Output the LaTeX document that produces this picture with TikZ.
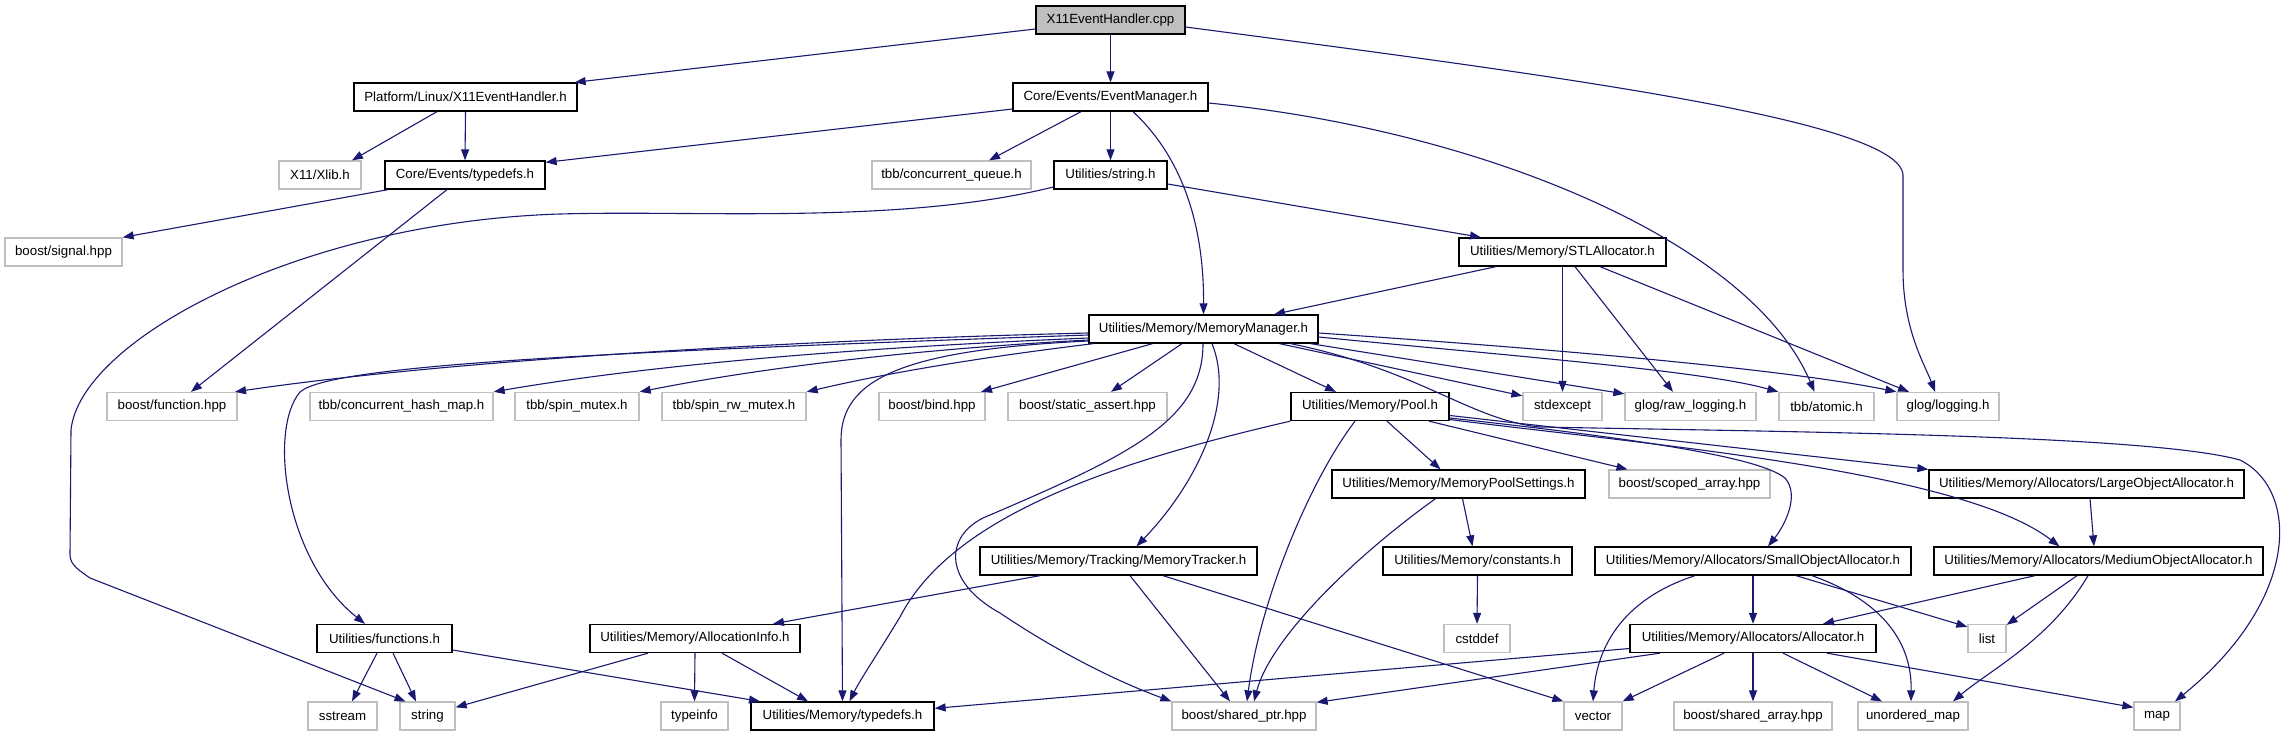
\documentclass[tikz,border=0pt]{standalone}
\usepackage{fontspec}
\setmainfont{Liberation Sans}
\usetikzlibrary{arrows.meta}
\definecolor{sysgrey}{HTML}{BFBFBF}
\definecolor{edgeblue}{HTML}{191970}
\newcommand{\nodefont}{\fontsize{13.3}{15}\selectfont}
\tikzset{
  box/.style={draw, line width=1.3pt, minimum height=28pt, inner sep=0pt, font=\nodefont, anchor=center},
  doc/.style={box, draw=black},
  sys/.style={box, draw=sysgrey},
  root/.style={box, draw=black, fill=sysgrey},
  dep/.style={draw=edgeblue, line width=1.1pt, -{Triangle[length=11pt,width=8pt]}},
}
\begin{document}
\begin{tikzpicture}[x=1pt,y=-1pt]
\useasboundingbox (0,0) rectangle (2292,736);
% row 0
\node[root, minimum width=149pt] (cpp) at (1110.5,20) {X11EventHandler.cpp};
% row 1
\node[doc, minimum width=223pt] (plat) at (465.5,97) {Platform/Linux/X11EventHandler.h};
\node[doc, minimum width=195pt] (em) at (1110.5,97) {Core/Events/EventManager.h};
% row 2
\node[sys, minimum width=82pt] (xlib) at (320,175) {X11/Xlib.h};
\node[doc, minimum width=160pt] (ctd) at (465,175) {Core/Events/typedefs.h};
\node[sys, minimum width=159pt] (cq) at (951.5,175) {tbb/concurrent\_queue.h};
\node[doc, minimum width=113pt] (ustr) at (1110.5,175) {Utilities/string.h};
% row 3
\node[sys, minimum width=117pt] (sig) at (63.5,252) {boost/signal.hpp};
\node[doc, minimum width=207pt] (stl) at (1562.5,252) {Utilities/Memory/STLAllocator.h};
% row 4
\node[doc, minimum width=229pt] (mm) at (1203.5,329) {Utilities/Memory/MemoryManager.h};
% row 5
\node[sys, minimum width=130pt] (bfun) at (172,406.5) {boost/function.hpp};
\node[sys, minimum width=183pt] (chm) at (401.5,406.5) {tbb/concurrent\_hash\_map.h};
\node[sys, minimum width=124pt] (smx) at (577,406.5) {tbb/spin\_mutex.h};
\node[sys, minimum width=144pt] (srw) at (734,406.5) {tbb/spin\_rw\_mutex.h};
\node[sys, minimum width=106pt] (bind) at (932,406.5) {boost/bind.hpp};
\node[sys, minimum width=159pt] (sa) at (1087.5,406.5) {boost/static\_assert.hpp};
\node[doc, minimum width=158pt] (pool) at (1370,406.5) {Utilities/Memory/Pool.h};
\node[sys, minimum width=79pt] (stdx) at (1562.5,406.5) {stdexcept};
\node[sys, minimum width=131pt] (raw) at (1690.5,406.5) {glog/raw\_logging.h};
\node[sys, minimum width=95pt] (atom) at (1826.5,406.5) {tbb/atomic.h};
\node[sys, minimum width=102pt] (glog) at (1948,406.5) {glog/logging.h};
% row 6
\node[doc, minimum width=253pt] (mps) at (1458.5,484) {Utilities/Memory/MemoryPoolSettings.h};
\node[sys, minimum width=161pt] (scop) at (1689.5,484) {boost/scoped\_array.hpp};
\node[doc, minimum width=315pt] (large) at (2086.5,484) {Utilities/Memory/Allocators/LargeObjectAllocator.h};
% row 7
\node[doc, minimum width=277pt] (mt) at (1118.5,561) {Utilities/Memory/Tracking/MemoryTracker.h};
\node[doc, minimum width=189pt] (cons) at (1477.5,561) {Utilities/Memory/constants.h};
\node[doc, minimum width=316pt] (small) at (1753,561) {Utilities/Memory/Allocators/SmallObjectAllocator.h};
\node[doc, minimum width=329pt] (med) at (2098.5,561) {Utilities/Memory/Allocators/MediumObjectAllocator.h};
% row 8
\node[doc, minimum width=135pt] (fun) at (384.5,638.5) {Utilities/functions.h};
\node[doc, minimum width=210pt] (ainfo) at (695,638.5) {Utilities/Memory/AllocationInfo.h};
\node[sys, minimum width=66pt] (cstd) at (1477,638.5) {cstddef};
\node[doc, minimum width=246pt] (alloc) at (1753,638.5) {Utilities/Memory/Allocators/Allocator.h};
\node[sys, minimum width=38pt] (list) at (1987,638.5) {list};
% row 9
\node[sys, minimum width=69pt] (sstr) at (342.5,716) {sstream};
\node[sys, minimum width=55pt] (str) at (427.5,716) {string};
\node[sys, minimum width=67pt] (tinfo) at (694.5,716) {typeinfo};
\node[doc, minimum width=183pt] (mtd) at (842.5,716) {Utilities/Memory/typedefs.h};
\node[sys, minimum width=144pt] (sptr) at (1244,716) {boost/shared\_ptr.hpp};
\node[sys, minimum width=58pt] (vec) at (1593,716) {vector};
\node[sys, minimum width=158pt] (sarr) at (1753,716) {boost/shared\_array.hpp};
\node[sys, minimum width=110pt] (umap) at (1913,716) {unordered\_map};
\node[sys, minimum width=46pt] (map) at (2157,716) {map};

% edges from cpp
\draw[dep] ([yshift=-9pt]cpp.west) -- ([xshift=-3pt]plat.north east);
\draw[dep] (cpp.south) -- (em.north);
\draw[dep] ([yshift=-7pt]cpp.east) .. controls (1550,75) and (1900,120) .. (1903,175) -- (1903,270) .. controls (1903,330) and (1925,365) .. ([xshift=-13pt]glog.north);
% edges from EventManager
\draw[dep] ([yshift=-12pt]em.west) -- ([yshift=-2pt]ctd.north east);
\draw[dep] ([xshift=-29.5pt]em.south) -- ([xshift=37.5pt]cq.north);
\draw[dep] (em.south) -- (ustr.north);
\draw[dep] ([xshift=22.5pt]em.south) .. controls (1185,160) and (1204,230) .. (mm.north);
\draw[dep] ([yshift=-6pt]em.east) .. controls (1480,130) and (1750,240) .. ([xshift=-12pt]atom.north);
% edges from Platform
\draw[dep] ([xshift=-28.5pt]plat.south) -- ([xshift=32pt]xlib.north);
\draw[dep] (plat.south) -- (ctd.north);
% edges from Core/Events/typedefs.h
\draw[dep] ([xshift=-77pt]ctd.south) -- (sig.north east);
\draw[dep] ([xshift=-18pt]ctd.south) -- ([xshift=19pt]bfun.north);
% edges from Utilities/string.h
\draw[dep] ([yshift=-12pt]ustr.west) .. controls (900,225) and (700,210) .. (560,214) .. controls (300,222) and (80,340) .. (71,430) -- (70,555) .. controls (70,565) and (80,571) .. (90,578) -- ([xshift=-22pt]str.north);
\draw[dep] ([yshift=-9pt]ustr.east) -- ([xshift=-81.5pt]stl.north);
% edges from STLAllocator
\draw[dep] ([xshift=-66.5pt]stl.south) -- ([xshift=70.5pt]mm.north);
\draw[dep] (stl.south) -- (stdx.north);
\draw[dep] ([xshift=12.5pt]stl.south) -- ([xshift=-17.5pt]raw.north);
\draw[dep] ([xshift=37.5pt]stl.south) -- ([xshift=-39pt]glog.north);
% edges from MemoryManager
\draw[dep] ([yshift=-4pt]mm.west) .. controls (800,340) and (450,360) .. ([xshift=63pt]bfun.north);
\draw[dep] ([yshift=-6pt]mm.west) .. controls (600,352) and (330,365) .. (300,392) .. controls (268,430) and (285,560) .. ([xshift=-19.5pt]fun.north);
\draw[dep] ([yshift=-9pt]mm.west) .. controls (850,348) and (650,365) .. (chm.north east);
\draw[dep] ([yshift=-11pt]mm.west) .. controls (900,350) and (750,370) .. (smx.north east);
\draw[dep] ([xshift=5pt]mm.south west) .. controls (1000,355) and (900,370) .. (srw.north east);
\draw[dep] ([xshift=-51pt]mm.south) -- ([xshift=49pt]bind.north);
\draw[dep] ([xshift=-21.5pt]mm.south) -- ([xshift=23.5pt]sa.north);
\draw[dep] ([yshift=-12pt]mm.west) .. controls (900,350) and (841,380) .. (841,440) -- (mtd.north);
\draw[dep] ([xshift=-0.5pt]mm.south) .. controls (1203,420) and (1130,455) .. (990,515) .. controls (945,532) and (940,580) .. (1000,613) .. controls (1040,640) and (1100,675) .. (sptr.north west);
\draw[dep] ([xshift=8.5pt]mm.south) .. controls (1235,400) and (1200,480) .. ([xshift=18pt]mt.north);
\draw[dep] ([xshift=30.5pt]mm.south) -- ([xshift=-34pt]pool.north);
\draw[dep] ([xshift=76pt]mm.south) -- ([yshift=-4pt]stdx.north west);
\draw[dep] ([xshift=-8pt]mm.south east) -- ([yshift=-2pt]raw.north west);
\draw[dep] ([yshift=-8pt]mm.east) .. controls (1500,355) and (1700,370) .. (atom.north west);
\draw[dep] ([yshift=-4pt]mm.east) .. controls (1600,352) and (1800,372) .. (glog.north west);
\draw[dep] ([xshift=-28pt]mm.south east) .. controls (1420,370) and (1470,420) .. (1540,427) .. controls (1800,432) and (2150,435) .. (2240,460) .. controls (2300,490) and (2300,600) .. ([xshift=18pt]map.north);
% edges from Pool
\draw[dep] (pool.south west) .. controls (1100,465) and (950,520) .. (900,617) .. controls (880,650) and (860,680) .. ([xshift=7pt]mtd.north);
\draw[dep] ([xshift=-15pt]pool.south) .. controls (1310,480) and (1260,600) .. ([xshift=3pt]sptr.north);
\draw[dep] ([xshift=17pt]pool.south) -- ([xshift=-18pt]mps.north);
\draw[dep] ([xshift=59pt]pool.south) -- ([xshift=-62pt]scop.north);
\draw[dep] ([yshift=-11.5pt]pool.east) .. controls (1650,440) and (1760,458) .. (1785,478) .. controls (1800,495) and (1785,525) .. ([xshift=15pt]small.north);
\draw[dep] ([yshift=-9pt]pool.east) -- (large.north west);
\draw[dep] ([yshift=-13pt]pool.east) .. controls (1650,445) and (1960,470) .. ([xshift=-39pt]med.north);
% MemoryPoolSettings, constants, Large
\draw[dep] ([xshift=4pt]mps.south) -- ([xshift=-5pt]cons.north);
\draw[dep] ([xshift=-23pt]mps.south) .. controls (1350,560) and (1270,640) .. ([xshift=10pt]sptr.north);
\draw[dep] (cons.south) -- (cstd.north);
\draw[dep] ([xshift=3.5pt]large.south) -- ([xshift=-4.5pt]med.north);
% MemoryTracker
\draw[dep] ([xshift=-78.5pt]mt.south) -- ([xshift=78pt]ainfo.north);
\draw[dep] ([xshift=11.5pt]mt.south) -- ([xshift=-14pt]sptr.north);
\draw[dep] ([xshift=44.5pt]mt.south) -- (vec.north west);
% AllocationInfo
\draw[dep] ([xshift=-47pt]ainfo.south) -- ([yshift=-6pt]str.north east);
\draw[dep] (ainfo.south) -- (tinfo.north);
\draw[dep] ([xshift=27pt]ainfo.south) -- ([xshift=-34.5pt]mtd.north);
% functions.h
\draw[dep] ([xshift=-7.5pt]fun.south) -- ([xshift=9.5pt]sstr.north);
\draw[dep] ([xshift=8.5pt]fun.south) -- ([xshift=-11.5pt]str.north);
\draw[dep] ([yshift=-11.5pt]fun.east) -- ([xshift=-82.5pt]mtd.north);
% SmallObjectAllocator
\draw[dep] (small.south) -- (alloc.north);
\draw[dep] ([xshift=-58pt]small.south) .. controls (1620,600) and (1597,650) .. (vec.north);
\draw[dep] ([xshift=43pt]small.south) -- ([yshift=-3pt]list.north west);
\draw[dep] ([xshift=59pt]small.south) .. controls (1880,600) and (1912,640) .. ([xshift=-2pt]umap.north);
% MediumObjectAllocator
\draw[dep] ([xshift=-63.5pt]med.south) -- ([xshift=70pt]alloc.north);
\draw[dep] ([xshift=-21.5pt]med.south) -- ([yshift=-1pt]list.north east);
\draw[dep] ([xshift=-10.5pt]med.south) .. controls (2050,640) and (1990,670) .. ([xshift=40pt]umap.north);
% Allocator
\draw[dep] ([xshift=-29pt]alloc.south) -- (vec.north east);
\draw[dep] (alloc.south) -- (sarr.north);
\draw[dep] ([xshift=30pt]alloc.south) -- ([xshift=-31pt]umap.north);
\draw[dep] ([xshift=74pt]alloc.south) -- ([yshift=-6pt]map.north west);
\draw[dep] ([yshift=-10pt]alloc.west) -- ([yshift=-7pt]mtd.north east);
\draw[dep] ([xshift=-93pt]alloc.south) -- ([yshift=-1pt]sptr.north east);
\end{tikzpicture}
\end{document}
